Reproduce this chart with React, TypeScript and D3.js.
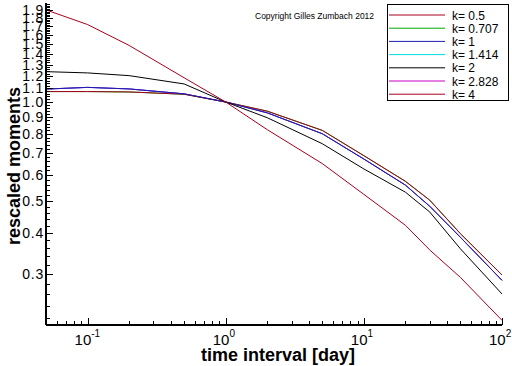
import * as React from "react";
import * as d3 from "d3";

// time interval in days
const days = [0.05, 0.1, 0.2, 0.5, 1, 2, 5, 10, 20, 30, 50, 100];

// rescaled moments per k
const k05 = [1.076, 1.076, 1.073, 1.056, 1.0, 0.938, 0.82, 0.687, 0.574, 0.503, 0.398, 0.298];
const k0707 = [1.076, 1.076, 1.073, 1.056, 1.0, 0.938, 0.82, 0.687, 0.574, 0.503, 0.398, 0.298];
const k1 = [1.095, 1.108, 1.096, 1.059, 1.0, 0.927, 0.801, 0.671, 0.559, 0.482, 0.388, 0.287];
const k1414 = [1.095, 1.108, 1.096, 1.059, 1.0, 0.927, 0.801, 0.671, 0.559, 0.482, 0.388, 0.287];
const k2 = [1.237, 1.226, 1.203, 1.135, 1.0, 0.896, 0.747, 0.626, 0.532, 0.463, 0.358, 0.261];
const k2828 = [1.095, 1.108, 1.096, 1.059, 1.0, 0.927, 0.801, 0.671, 0.559, 0.482, 0.388, 0.287];
const k4 = [1.906, 1.72, 1.486, 1.185, 1.0, 0.824, 0.65, 0.524, 0.422, 0.355, 0.293, 0.217];

const seriesNames = ["k= 0.5", "k= 0.707", "k= 1", "k= 1.414", "k= 2", "k= 2.828", "k= 4"];
const seriesValues = [k05, k0707, k1, k1414, k2, k2828, k4];
const seriesColors = ["#a8001e", "#00a800", "#1c1cb0", "#00dcdc", "#000000", "#c800c8", "#a8001e"];
// hidden curves first so the visible ones sit on top
const drawOrder = [1, 3, 5, 0, 2, 4, 6];

const yLabels = [0.3, 0.4, 0.5, 0.6, 0.7, 0.8, 0.9, 1.0, 1.1, 1.2, 1.3, 1.4, 1.5, 1.6, 1.7, 1.8, 1.9];
const xDecades = [0.1, 1, 10, 100];
const xExponents = ["-1", "0", "1", "2"];

export default function App() {
  const ref = React.useRef<SVGSVGElement>(null);

  React.useEffect(() => {
    const width = 512, height = 366;
    const left = 46, right = 502, top = 3, bottom = 325;
    const svg = d3.select(ref.current);
    svg.selectAll("*").remove();
    svg.append("rect").attr("width", width).attr("height", height).attr("fill", "#fff");

    const x = d3.scaleLog().domain([0.05, 100]).range([left, right]);
    const y = d3.scaleLog().domain([0.21, 2.0]).range([bottom, top]);
    const font = "Liberation Sans, Arial, sans-serif";

    // curves
    const line = d3.line<number>()
      .x((d, i) => x(days[i]))
      .y(d => y(d));
    drawOrder.forEach(i => {
      svg.append("path")
        .attr("d", line(seriesValues[i]))
        .attr("fill", "none")
        .attr("stroke", seriesColors[i])
        .attr("stroke-width", 1);
    });

    // axes lines
    const axes = svg.append("g").attr("stroke", "#000").attr("stroke-width", 1.5).attr("shape-rendering", "crispEdges");
    axes.append("line").attr("x1", left).attr("x2", left).attr("y1", top).attr("y2", bottom);
    axes.append("line").attr("x1", left).attr("x2", right).attr("y1", bottom).attr("y2", bottom);

    // y ticks (inside), minor every 0.02
    const yMinor = d3.range(22, 200, 2).map(v => v / 100);
    yMinor.forEach(v => {
      const major = yLabels.some(l => Math.abs(l - v) < 1e-6);
      axes.append("line")
        .attr("x1", left).attr("x2", left + (major ? 7 : 4))
        .attr("y1", Math.round(y(v))).attr("y2", Math.round(y(v)))
        .attr("stroke-width", 1);
    });

    svg.append("g").selectAll("text").data(yLabels).enter().append("text")
      .attr("x", 44)
      .attr("y", d => y(d) + 5)
      .attr("text-anchor", "end")
      .attr("font-family", font)
      .attr("font-size", 14)
      .attr("letter-spacing", 0.8)
      .text(d => d.toFixed(1));

    // x ticks (inside)
    const xMinor: number[] = [];
    [0.01, 0.1, 1, 10].forEach(dec => d3.range(1, 10).forEach(m => {
      const v = dec * m;
      if (v >= 0.05 && v <= 100) xMinor.push(v);
    }));
    xMinor.push(100);
    xMinor.forEach(v => {
      const major = xDecades.some(d => Math.abs(d - v) < 1e-9);
      axes.append("line")
        .attr("x1", Math.round(x(v))).attr("x2", Math.round(x(v)))
        .attr("y1", bottom).attr("y2", bottom - (major ? 7 : 4))
        .attr("stroke-width", 1);
    });

    const xl = svg.append("g").attr("font-family", font);
    xDecades.forEach((d, i) => {
      const t = xl.append("text")
        .attr("x", x(d) - 13)
        .attr("y", 345)
        .attr("font-size", 15);
      t.append("tspan").text("10");
      t.append("tspan").attr("dy", -8).attr("font-size", 10).text(xExponents[i]);
    });

    // axis titles
    svg.append("text")
      .attr("x", 278).attr("y", 361)
      .attr("text-anchor", "middle")
      .attr("font-family", font).attr("font-weight", "bold").attr("font-size", 18)
      .text("time interval [day]");
    svg.append("text")
      .attr("transform", "translate(20,166) rotate(-90)")
      .attr("text-anchor", "middle")
      .attr("font-family", font).attr("font-weight", "bold").attr("font-size", 18)
      .text("rescaled moments");

    svg.append("text")
      .attr("x", 255).attr("y", 19)
      .attr("font-family", font).attr("font-size", 8.5)
      .text("Copyright Gilles Zumbach 2012");

    // legend
    const legend = svg.append("g");
    legend.append("rect")
      .attr("x", 387.5).attr("y", 4.5).attr("width", 121).attr("height", 96)
      .attr("fill", "#fff").attr("stroke", "#000").attr("stroke-width", 1);
    seriesNames.forEach((name, i) => {
      const ly = 15 + i * 13.2;
      legend.append("line")
        .attr("x1", 389).attr("x2", 445).attr("y1", ly).attr("y2", ly)
        .attr("stroke", seriesColors[i]).attr("stroke-width", 1);
      legend.append("text")
        .attr("x", 452).attr("y", ly + 4.5)
        .attr("font-family", font).attr("font-size", 12)
        .text(name);
    });
  }, []);

  return (
    <svg ref={ref} width={512} height={366} style={{ position: "absolute", left: 0, top: 0 }} />
  );
}
